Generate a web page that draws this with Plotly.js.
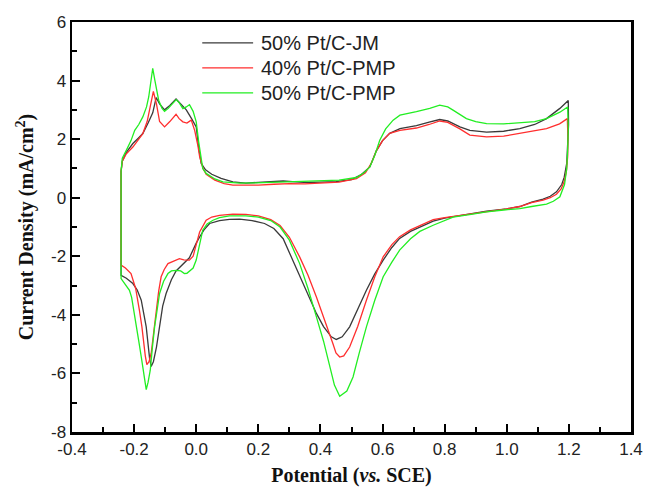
<!DOCTYPE html>
<html>
<head>
<meta charset="utf-8">
<script src="https://cdn.plot.ly/plotly-3.0.1.min.js"></script>
<style>html,body{margin:0;padding:0;background:#fff;}#chart{width:645px;height:490px;}</style>
</head>
<body>
<div id="chart"></div>
<script>
// Series names
const seriesNames = ['50% Pt/C-JM', '40% Pt/C-PMP', '50% Pt/C-PMP'];

// 50% Pt/C-JM : potential (V vs SCE) and current density (mA/cm2), full CV loop
const jmV = [-0.242,-0.238,-0.225,-0.204,-0.185,-0.172,-0.155,-0.14,-0.129,-0.118,-0.102,-0.085,-0.065,-0.05,-0.032,-0.015,0.0,0.008,0.016,0.03,0.05,0.08,0.118,0.16,0.2,0.25,0.28,0.32,0.36,0.4,0.45,0.5,0.53,0.559,0.58,0.6,0.623,0.656,0.709,0.75,0.784,0.81,0.849,0.881,0.935,0.99,1.042,1.09,1.128,1.171,1.198,
  1.199,1.196,1.193,1.185,1.177,1.16,1.14,1.117,1.08,1.042,1.0,0.935,0.88,0.849,0.8,0.763,0.72,0.69,0.655,0.63,0.602,0.575,0.548,0.52,0.494,0.47,0.451,0.435,0.41,0.387,0.36,0.333,0.30,0.28,0.25,0.22,0.18,0.14,0.107,0.075,0.043,0.025,0.011,0.0,-0.022,-0.045,-0.065,-0.08,-0.097,-0.108,-0.118,-0.128,-0.138,-0.145,-0.150,-0.153,-0.161,-0.170,-0.177,-0.19,-0.204,-0.225,-0.242,-0.242];
const jmI = [0.9,1.25,1.55,1.85,2.05,2.19,2.55,2.9,3.42,3.2,3.0,3.15,3.37,3.2,3.0,2.7,2.42,1.7,1.17,0.95,0.8,0.66,0.54,0.5,0.52,0.56,0.57,0.54,0.52,0.53,0.55,0.62,0.78,1.05,1.6,1.95,2.2,2.36,2.46,2.58,2.67,2.62,2.42,2.30,2.24,2.27,2.36,2.5,2.70,3.05,3.32,
  2.5,1.7,1.17,0.7,0.45,0.2,0.05,-0.05,-0.15,-0.3,-0.38,-0.46,-0.55,-0.6,-0.7,-0.8,-1.0,-1.15,-1.39,-1.7,-2.13,-2.6,-3.16,-3.8,-4.41,-4.75,-4.84,-4.75,-4.4,-3.95,-3.3,-2.70,-1.85,-1.4,-1.05,-0.88,-0.78,-0.73,-0.74,-0.78,-0.88,-1.1,-1.34,-1.55,-2.05,-2.3,-2.5,-2.8,-3.27,-3.7,-4.41,-5.1,-5.6,-5.76,-5.5,-5.21,-4.41,-3.9,-3.5,-3.15,-2.93,-2.75,-2.65,0.9];

// 40% Pt/C-PMP
const pmp40V = [-0.242,-0.238,-0.225,-0.204,-0.185,-0.172,-0.158,-0.148,-0.138,-0.128,-0.118,-0.102,-0.085,-0.065,-0.055,-0.043,-0.03,-0.016,-0.005,0.005,0.011,0.022,0.032,0.06,0.09,0.118,0.16,0.2,0.25,0.3,0.35,0.408,0.46,0.516,0.545,0.565,0.58,0.6,0.623,0.656,0.709,0.75,0.784,0.81,0.849,0.881,0.935,0.99,1.042,1.09,1.128,1.17,1.195,
  1.197,1.196,1.192,1.185,1.175,1.16,1.14,1.117,1.08,1.042,1.0,0.935,0.88,0.849,0.8,0.763,0.72,0.69,0.655,0.63,0.602,0.575,0.548,0.52,0.494,0.475,0.462,0.45,0.44,0.415,0.387,0.36,0.333,0.30,0.27,0.24,0.2,0.16,0.118,0.075,0.05,0.032,0.02,0.011,0.0,-0.010,-0.022,-0.04,-0.054,-0.065,-0.08,-0.091,-0.103,-0.113,-0.121,-0.129,-0.137,-0.145,-0.152,-0.159,-0.164,-0.167,-0.175,-0.183,-0.195,-0.21,-0.228,-0.242,-0.242];
const pmp40I = [0.9,1.25,1.5,1.73,2.0,2.19,2.6,3.1,3.63,3.2,2.6,2.42,2.6,2.85,2.7,2.59,2.55,2.65,2.3,1.8,1.4,1.0,0.8,0.6,0.48,0.43,0.42,0.43,0.46,0.48,0.47,0.5,0.53,0.65,0.85,1.2,1.6,1.95,2.2,2.30,2.38,2.5,2.62,2.57,2.35,2.14,2.08,2.1,2.19,2.27,2.36,2.52,2.7,
  2.0,1.4,0.9,0.55,0.3,0.12,0.0,-0.08,-0.17,-0.3,-0.38,-0.47,-0.55,-0.6,-0.68,-0.75,-0.95,-1.1,-1.33,-1.6,-2.02,-2.7,-3.5,-4.4,-5.10,-5.4,-5.44,-5.3,-4.98,-4.2,-3.39,-2.65,-2.02,-1.35,-0.95,-0.75,-0.62,-0.57,-0.56,-0.6,-0.66,-0.77,-1.0,-1.17,-1.6,-2.0,-2.13,-2.12,-2.08,-2.13,-2.2,-2.25,-2.45,-2.70,-3.2,-3.84,-4.6,-5.31,-5.6,-5.70,-5.4,-5.08,-4.4,-3.84,-3.1,-2.59,-2.4,-2.30,0.9];

// 50% Pt/C-PMP
const pmp50V = [-0.242,-0.238,-0.226,-0.21,-0.198,-0.185,-0.172,-0.160,-0.153,-0.146,-0.140,-0.133,-0.127,-0.121,-0.11,-0.102,-0.09,-0.075,-0.0645,-0.055,-0.043,-0.032,-0.0216,-0.01,0.0,0.008,0.016,0.021,0.032,0.06,0.086,0.14,0.193,0.25,0.30,0.35,0.408,0.46,0.516,0.54,0.559,0.575,0.591,0.61,0.634,0.656,0.709,0.752,0.784,0.81,0.827,0.85,0.870,0.9,0.935,0.99,1.042,1.09,1.128,1.171,1.196,
  1.198,1.196,1.193,1.186,1.178,1.171,1.15,1.128,1.08,1.042,0.99,0.935,0.88,0.827,0.763,0.72,0.69,0.655,0.63,0.602,0.575,0.548,0.525,0.505,0.485,0.462,0.445,0.43,0.41,0.387,0.36,0.333,0.30,0.27,0.24,0.2,0.16,0.107,0.075,0.054,0.035,0.021,0.01,0.0,-0.01,-0.022,-0.03,-0.038,-0.05,-0.065,-0.08,-0.091,-0.105,-0.118,-0.126,-0.134,-0.141,-0.148,-0.155,-0.161,-0.166,-0.171,-0.177,-0.185,-0.193,-0.2,-0.208,-0.215,-0.228,-0.242,-0.242];
const pmp50I = [0.9,1.35,1.6,1.95,2.30,2.5,2.76,3.1,3.44,4.0,4.42,4.0,3.6,3.33,3.05,2.95,3.05,3.25,3.35,3.25,3.04,3.1,3.18,2.95,2.59,1.9,1.28,1.0,0.83,0.64,0.54,0.5,0.51,0.53,0.54,0.55,0.57,0.6,0.69,0.85,1.05,1.45,1.96,2.35,2.65,2.82,2.94,3.05,3.16,3.1,2.99,2.83,2.70,2.6,2.53,2.52,2.55,2.6,2.70,2.92,3.10,
  2.4,1.6,1.0,0.45,0.22,0.03,-0.12,-0.22,-0.3,-0.37,-0.42,-0.48,-0.58,-0.66,-0.94,-1.15,-1.4,-1.79,-2.2,-2.70,-3.5,-4.41,-5.3,-6.12,-6.6,-6.78,-6.4,-5.78,-4.9,-4.07,-3.1,-2.25,-1.45,-1.0,-0.78,-0.66,-0.62,-0.62,-0.68,-0.77,-0.9,-1.11,-1.6,-2.13,-2.4,-2.52,-2.58,-2.59,-2.5,-2.48,-2.5,-2.59,-2.85,-3.27,-3.8,-4.41,-5.1,-5.89,-6.3,-6.55,-6.2,-5.8,-5.43,-4.9,-4.41,-3.9,-3.4,-3.16,-2.95,-2.76,0.9];

// Axis ticks
const xTicks = [-0.4,-0.2,0.0,0.2,0.4,0.6,0.8,1.0,1.2,1.4];
const xTickLabels = ['-0.4','-0.2','0.0','0.2','0.4','0.6','0.8','1.0','1.2','1.4'];
const yTicks = [-8,-6,-4,-2,0,2,4,6];
const yTickLabels = ['-8','-6','-4','-2','0','2','4','6'];

const colors = ['#3a3a3a', '#ff2e2e', '#22ee22'];
const xs = [jmV, pmp40V, pmp50V];
const ys = [jmI, pmp40I, pmp50I];

const traces = seriesNames.map((n, k) => ({
  type: 'scatter', mode: 'lines', name: n,
  x: xs[k], y: ys[k],
  line: {color: colors[k], width: 1.3}
}));

// Legend drawn with shapes + annotations (paper coordinates)
const legendRowsY = [0.949, 0.888, 0.827];
const shapes = seriesNames.map((n, k) => ({
  type: 'line', xref: 'paper', yref: 'paper',
  x0: 0.233, x1: 0.324, y0: legendRowsY[k], y1: legendRowsY[k],
  line: {color: colors[k], width: 1.3}
}));
const annotations = seriesNames.map((n, k) => ({
  xref: 'paper', yref: 'paper', x: 0.334, y: legendRowsY[k],
  xanchor: 'left', yanchor: 'middle', showarrow: false, text: n,
  font: {family: 'Liberation Sans, Arial, sans-serif', size: 20, color: '#222'}
}));

const tickFont = {family: 'Liberation Sans, Arial, sans-serif', size: 17, color: '#222'};
const titleFont = {family: 'Liberation Serif, Times New Roman, serif', size: 20, color: '#111', weight: 'bold'};

const layout = {
  width: 645, height: 490,
  margin: {l: 72, r: 14, t: 22, b: 58},
  paper_bgcolor: '#fff', plot_bgcolor: '#fff',
  showlegend: false,
  shapes: shapes, annotations: annotations,
  xaxis: {
    range: [-0.4, 1.4], tickvals: xTicks, ticktext: xTickLabels,
    ticks: 'inside', ticklen: 8, tickwidth: 2, tickcolor: '#000',
    minor: {ticks: 'inside', ticklen: 5, tickwidth: 2, tickcolor: '#000', dtick: 0.1},
    showline: true, linewidth: 2.5, linecolor: '#000', mirror: true,
    showgrid: false, zeroline: false, tickfont: tickFont,
    title: {text: 'Potential (<i>vs.</i> SCE)', font: titleFont, standoff: 10}
  },
  yaxis: {
    range: [-8, 6], tickvals: yTicks, ticktext: yTickLabels,
    ticks: 'inside', ticklen: 8, tickwidth: 2, tickcolor: '#000',
    minor: {ticks: 'inside', ticklen: 5, tickwidth: 2, tickcolor: '#000', dtick: 1},
    showline: true, linewidth: 2.5, linecolor: '#000', mirror: true,
    showgrid: false, zeroline: false, tickfont: tickFont,
    title: {text: 'Current Density (mA/cm<sup>2</sup>)', font: titleFont, standoff: 12}
  }
};

Plotly.newPlot('chart', traces, layout, {displayModeBar: false, staticPlot: true});
</script>
</body>
</html>
